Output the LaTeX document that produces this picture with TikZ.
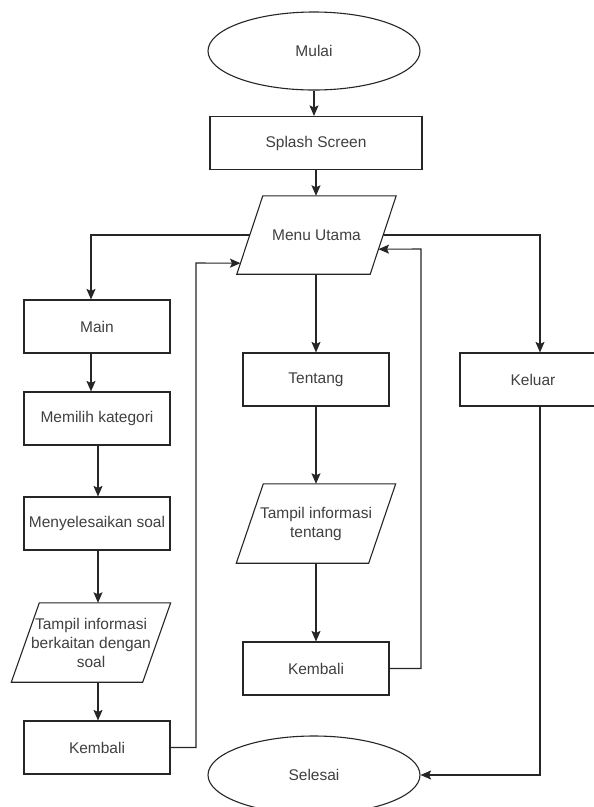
\documentclass[tikz,border=0pt]{standalone}
\usepackage{fontspec}
\setmainfont{Liberation Sans}
\usetikzlibrary{shapes.geometric,arrows.meta,calc}
\tikzset{
  ln/.style={draw=black!85, line width=1.1pt},
  arr/.style={ln, -{Stealth[length=10.5pt,width=9pt,inset=2pt]}},
  txt/.style={text=black!75, font=\fontsize{15.5}{19}\selectfont, align=center},
  term/.style={ellipse, ln, txt, minimum width=212pt, minimum height=78pt, inner sep=0pt},
  proc/.style={rectangle, ln, txt, minimum width=146pt, minimum height=53pt, inner sep=0pt},
  io/.style={rectangle, txt, minimum height=79pt, minimum width=159pt, inner sep=0pt},
}
\newcommand\mypara[2]{\draw[ln] ([xshift=#2]#1.north west) -- (#1.north east) -- ([xshift=-#2]#1.south east) -- (#1.south west) -- cycle;}
\begin{document}
\begin{tikzpicture}[x=1pt,y=-1pt]
\useasboundingbox (0,0) rectangle (594,807);
\fill[white] (0,0) rectangle (594,807);
\clip (0,0) rectangle (594,807);

\node[term] (mulai) at (314,51) {Mulai};
\node[proc, minimum width=212pt] (splash) at (316,143) {Splash Screen};
\node[io, minimum height=78pt] (menu) at (316.5,235) {Menu Utama};
\mypara{menu}{26pt}

\node[proc] (main) at (97,326.5) {Main};
\node[proc] (mem) at (97,418.5) {Memilih kategori};
\node[proc] (meny) at (97,523.5) {Menyelesaikan soal};
\node[io] (tampil1) at (91,642.5) {Tampil informasi\\berkaitan dengan\\soal};
\mypara{tampil1}{28pt}
\node[proc] (kemb1) at (97,747.5) {Kembali};

\node[proc] (tentang) at (316,379.5) {Tentang};
\node[io] (tampil2) at (316,523.5) {Tampil informasi\\tentang};
\mypara{tampil2}{27pt}
\node[proc] (kemb2) at (316,668.5) {Kembali};

\node[proc] (keluar) at (533,379.5) {Keluar};
\node[term] (selesai) at (314,775) {Selesai};

% main flow
\draw[arr] (mulai.south) -- (mulai.south |- splash.north);
\draw[arr] (splash.south) -- (splash.south |- menu.north);
\draw[arr] ([xshift=13pt]menu.west) -| ([xshift=-6pt]main.north);
\draw[arr] ([xshift=-13pt]menu.east) -| ([xshift=7pt]keluar.north);
\draw[arr] (menu.south -| tentang.north) -- (tentang.north);

% left column
\draw[arr] ([xshift=-6pt]main.south) -- ([xshift=-6pt]mem.north);
\draw[arr] ([xshift=1pt]mem.south) -- ([xshift=1pt]meny.north);
\draw[arr] ([xshift=1pt]meny.south) -- ([xshift=1pt]meny.south |- tampil1.north);
\draw[arr] ([xshift=1pt]meny.south |- tampil1.south) -- ([xshift=1pt]kemb1.north);

% middle column
\draw[arr] (tentang.south) -- (tentang.south |- tampil2.north);
\draw[arr] (tampil2.south) -- (kemb2.north);

% right column
\draw[arr] ([xshift=7pt]keluar.south) |- (selesai.east);

% returns
\coordinate (lr) at ($(menu.south west)+(3.7,-11)$);
\coordinate (lrc) at (196,263);
\draw[arr] (kemb1.east) -| (lrc) -- (lr);
\coordinate (rr) at ($(menu.south east)+(-17.7,-25)$);
\coordinate (rrc) at (421,249);
\draw[arr] (kemb2.east) -| (rrc) -- (rr);
\end{tikzpicture}
\end{document}
